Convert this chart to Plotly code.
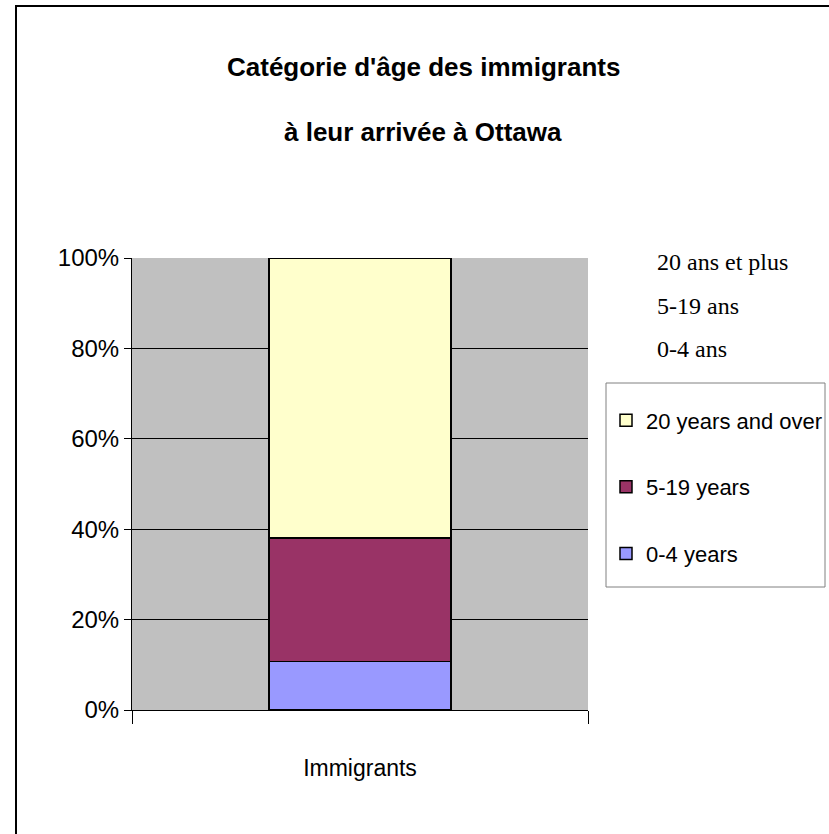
import plotly.graph_objects as go

categories = ["Immigrants"]
series_names = ["0-4 years", "5-19 years", "20 years and over"]
series_values = [[10.7], [27.3], [62.0]]
series_colors = ["#9999FF", "#993366", "#FFFFCC"]
legend_ranks = [3, 2, 1]
y_ticks = [0, 20, 40, 60, 80, 100]
y_tick_labels = ["0%", "20%", "40%", "60%", "80%", "100%"]
french_labels = ["20 ans et plus", "5-19 ans", "0-4 ans"]
title_lines = ["Catégorie d'âge des immigrants", "à leur arrivée à Ottawa"]

W, H = 829, 834
L, R, T, B = 132, 588, 258, 710
PW, PH = R - L, B - T

def px(x):
    return (x - L) / PW

def py(y):
    return (B - y) / PH

SANS = "Liberation Sans, Arial, sans-serif"
SERIF = "Liberation Serif, Times New Roman, serif"

fig = go.Figure()
for name, vals, col, rk in zip(series_names, series_values, series_colors, legend_ranks):
    fig.add_trace(go.Bar(
        x=categories, y=vals, name=name, legendgroup=name, legendrank=rk,
        marker=dict(color=col, line=dict(color="black", width=1.5)),
        width=0.4,
    ))

annotations = []
for line, ypix in zip(title_lines, [67, 132]):
    annotations.append(dict(
        text="<b>%s</b>" % line, xref="paper", yref="paper",
        x=px(423), y=py(ypix), xanchor="center", yanchor="middle",
        showarrow=False, font=dict(family=SANS, size=26, color="black"),
    ))
for lab, ypix in zip(french_labels, [262, 306, 349]):
    annotations.append(dict(
        text=lab, xref="paper", yref="paper",
        x=px(655), y=py(ypix), xanchor="left", yanchor="middle",
        showarrow=False, font=dict(family=SERIF, size=24, color="black"),
    ))

shapes = [
    dict(type="rect", xref="paper", yref="paper",
         x0=px(16), x1=px(900), y0=py(6), y1=py(900),
         line=dict(color="black", width=2), fillcolor="rgba(0,0,0,0)", layer="below"),
    dict(type="rect", xref="paper", yref="paper",
         x0=px(606), x1=px(825), y0=py(383), y1=py(587),
         line=dict(color="#808080", width=1), fillcolor="white", layer="above"),
]

fig.update_layout(
    width=W, height=H,
    margin=dict(l=L, r=W - R, t=T, b=H - B, pad=0, autoexpand=False),
    paper_bgcolor="white", plot_bgcolor="#C0C0C0",
    barmode="stack",
    showlegend=True,
    legend=dict(
        x=px(606), y=py(389), xanchor="left", yanchor="top",
        bgcolor="rgba(0,0,0,0)", borderwidth=0,
        font=dict(family=SANS, size=22, color="black"),
        traceorder="grouped", tracegroupgap=35,
        title=dict(text=" ", font=dict(size=8)),
    ),
    annotations=annotations, shapes=shapes,
    xaxis=dict(
        range=[-0.5, 0.5], showline=True, linecolor="black", linewidth=1,
        ticks="outside", ticklen=13, tickcolor="black", tickwidth=1,
        tickson="boundaries", showgrid=False, ticklabelstandoff=37,
        tickfont=dict(family=SANS, size=23, color="black"),
    ),
    yaxis=dict(
        range=[0, 100], tickvals=y_ticks, ticktext=y_tick_labels,
        showline=True, linecolor="black", linewidth=1,
        ticks="outside", ticklen=7, tickcolor="black", tickwidth=1,
        showgrid=True, gridcolor="black", gridwidth=1, zeroline=False,
        tickfont=dict(family=SANS, size=24, color="black"),
    ),
)

fig.write_html("out.html", config={"displayModeBar": False},
               post_script="document.body.style.margin='0';")
